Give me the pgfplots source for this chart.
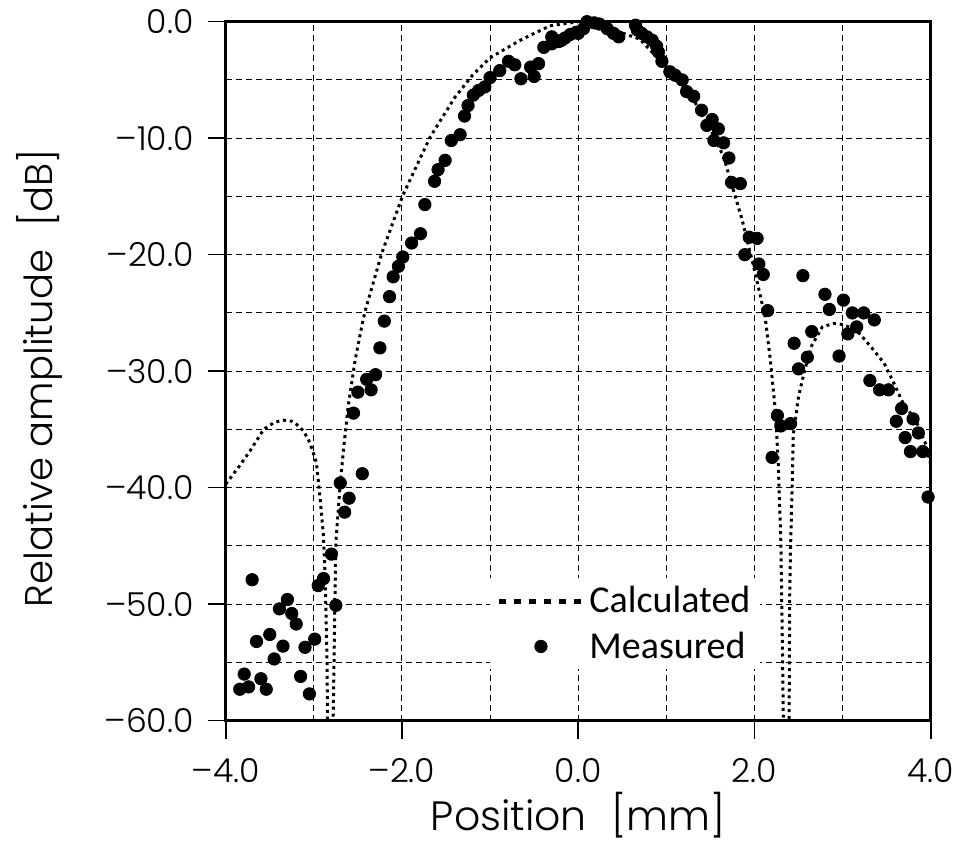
\documentclass[border=0pt]{standalone}
\usepackage{fontspec}
\setmainfont{Poppins}[UprightFont=* Light]
\newfontfamily\legfont{Carlito}
\usepackage{pgfplots}
\pgfplotsset{compat=1.18}
\pgfplotsset{
  calcleg/.style={legend image code/.code={\draw[##1,line width=2.5pt,dash pattern=on 3.5pt off 4pt] (0pt,0pt) -- (42pt,0pt);}},
  measleg/.style={legend image code/.code={\draw[##1] plot coordinates {(21pt,0pt)};}},
}
\begin{document}
\begin{tikzpicture}
\begin{axis}[
  scale only axis,
  width=352.5pt, height=349.5pt,
  xmin=-4, xmax=4, ymin=-60, ymax=0,
  xtick={-4,-2,0,2,4}, minor xtick={-3,-1,1,3},
  ytick={-60,-50,-40,-30,-20,-10,0}, minor ytick={-55,-45,-35,-25,-15,-5},
  xticklabels={–4.0,–2.0,0.0,2.0,4.0},
  yticklabels={–60.0,–50.0,–40.0,–30.0,–20.0,–10.0,0.0},
  grid=both,
  major grid style={black, line width=0.5pt, dash pattern=on 3pt off 2pt},
  minor grid style={black, line width=0.5pt, dash pattern=on 3pt off 2pt},
  tick pos=left, tick align=outside,
  major tick length=9pt, minor tick length=0pt,
  every tick/.style={black, line width=0.8pt},
  axis line style={black, line width=1.3pt},
  tick label style={font=\fontsize{16.5}{18}\selectfont},
  xticklabel style={yshift=-6.5pt},
  yticklabel style={xshift=-3.5pt},
  xlabel={Position\hspace{0.6em}[mm]},
  ylabel={Relative amplitude\hspace{0.6em}[dB]},
  xlabel style={font=\fontsize{20.5}{24}\selectfont, at={(axis description cs:0.5,-0.135)}, anchor=center},
  ylabel style={font=\fontsize{19.3}{23}\selectfont, at={(axis description cs:-0.264,0.49)}, anchor=center},
  clip mode=individual,
  legend style={at={(axis cs:-1.0,-47.75)}, anchor=north west, fill=white, draw=none,
    font=\legfont\fontsize{19}{22}\selectfont, inner xsep=3pt, inner ysep=2pt,
    row sep=4pt},
  legend cell align=left,
]
\addplot[black, line width=1.5pt, dash pattern=on 1.5pt off 1.9pt, calcleg]
coordinates {
(-4.00,-39.7) (-3.85,-38.2) (-3.72,-36.8) (-3.57,-35.0) (-3.45,-34.4) (-3.35,-34.2)
(-3.25,-34.3) (-3.19,-34.6) (-3.12,-35.1) (-3.06,-35.9) (-3.01,-36.9) (-2.97,-37.9)
(-2.93,-40.8) (-2.89,-44.2) (-2.87,-48.0) (-2.85,-55.0) (-2.84,-65) (-2.79,-65)
(-2.78,-59.7) (-2.76,-49.4) (-2.75,-44.7) (-2.70,-39.6) (-2.66,-36.5) (-2.61,-33.0)
(-2.53,-29.0) (-2.46,-26.3) (-2.42,-24.9) (-2.23,-19.9) (-1.99,-14.9) (-1.68,-9.9)
(-1.40,-6.5) (-1.20,-4.6) (-1.00,-3.1) (-0.66,-1.6) (-0.32,-0.35) (0.00,0.0) (0.10,0.0)
(0.40,-0.7) (0.70,-1.5) (0.85,-2.7) (1.00,-3.9) (1.30,-6.6) (1.50,-9.2) (1.65,-11.6)
(1.86,-17.0) (1.99,-21.0) (2.12,-25.3) (2.18,-29.0) (2.24,-33.6) (2.27,-37.9)
(2.30,-44.8) (2.32,-55.0) (2.335,-65) (2.39,-65) (2.40,-49.4) (2.41,-45.1)
(2.43,-39.3) (2.44,-35.5) (2.50,-32.2) (2.57,-29.9) (2.65,-27.8) (2.77,-26.2)
(2.90,-25.9) (3.01,-26.0) (3.16,-26.5) (3.31,-27.8) (3.47,-29.3) (3.58,-31.0)
(3.69,-32.8) (3.83,-34.2) (3.94,-36.2) (4.00,-38.0)
};
\addlegendentry{Calculated}
\addplot[only marks, mark=*, mark size=3.1pt, black, measleg]
coordinates {
(0.10,0.0) (0.06,-0.6) (-0.02,-0.9) (-0.09,-1.1) (-0.15,-1.4) (-0.22,-1.7) (-0.30,-1.9)
(0.00,-1.0) (-0.19,-1.6) (-0.30,-1.3) (-0.39,-2.2) (-0.45,-3.6) (-0.54,-3.9) (-0.50,-4.7)
(-0.65,-4.9) (-0.72,-3.7) (-0.79,-3.4) (-0.89,-4.2) (-1.00,-4.8) (-1.06,-5.6) (-1.13,-5.9)
(-1.19,-6.3) (-1.25,-7.2) (-1.29,-8.1) (-1.34,-9.7) (-1.44,-10.2) (-1.51,-11.9)
(-1.59,-12.7) (-1.63,-13.7) (-1.74,-15.7) (-1.79,-18.2) (-1.89,-19.0) (-1.99,-20.2)
(-2.04,-21.0) (-2.10,-21.9) (-2.14,-23.6) (-2.20,-25.7) (-2.25,-28.0) (-2.30,-30.3)
(-2.40,-30.7) (-2.35,-31.6) (-2.50,-31.8) (-2.55,-33.6) (-2.45,-38.8) (-2.70,-39.6)
(-2.60,-40.9) (-2.65,-42.1) (-2.80,-45.7) (-2.89,-47.8) (-2.95,-48.4) (-2.75,-50.1)
(-3.70,-47.9) (-3.30,-49.6) (-3.39,-50.4) (-3.25,-50.8) (-3.20,-51.7) (-3.50,-52.6)
(-3.65,-53.2) (-3.35,-53.6) (-3.10,-53.7) (-2.99,-53.0) (-3.45,-54.7) (-3.79,-56.0)
(-3.60,-56.4) (-3.15,-56.2) (-3.84,-57.3) (-3.74,-57.1) (-3.54,-57.3) (-3.05,-57.7)
(0.18,-0.1) (0.24,-0.2) (0.33,-0.6) (0.40,-1.0) (0.46,-1.3) (0.65,-0.3) (0.67,-0.7)
(0.72,-1.0) (0.78,-1.3) (0.84,-1.6) (0.89,-2.1) (0.91,-2.6) (0.95,-3.4) (1.04,-4.3)
(1.10,-4.6) (1.18,-5.0) (1.23,-6.0) (1.31,-6.4) (1.40,-7.6) (1.46,-8.9) (1.52,-8.4)
(1.59,-9.2) (1.54,-10.2) (1.65,-10.4) (1.71,-11.7) (1.74,-13.8) (1.84,-13.9)
(1.94,-18.5) (2.03,-18.6) (1.89,-20.0) (2.05,-20.8) (2.10,-21.7) (2.15,-24.8)
(2.55,-21.8) (2.80,-23.4) (3.01,-23.9) (2.85,-24.7) (3.11,-25.0) (3.24,-25.0)
(3.36,-25.6) (3.16,-26.2) (3.06,-26.8) (2.65,-26.6) (2.45,-27.6) (2.60,-28.8)
(2.96,-28.7) (2.50,-29.8) (3.31,-30.8) (3.42,-31.6) (3.52,-31.6) (3.67,-33.2)
(3.80,-34.1) (3.61,-34.3) (3.86,-35.3) (3.71,-35.7) (3.77,-36.9) (3.91,-36.9)
(3.97,-40.8) (2.26,-33.8) (2.30,-34.7) (2.41,-34.5) (2.20,-37.4)
};
\addlegendentry{Measured}
\end{axis}
\pgfresetboundingbox
\path[use as bounding box] ([shift={(-112.85pt,-67.75pt)}]current axis.south west) rectangle ([shift={(19.65pt,10.85pt)}]current axis.north east);
\end{tikzpicture}
\end{document}
